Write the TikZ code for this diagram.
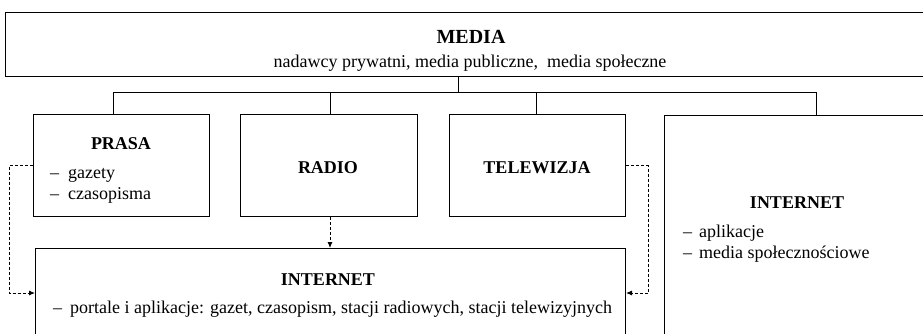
\documentclass[tikz,border=0pt]{standalone}
\usepackage{fontspec}
\setmainfont{Liberation Serif}
\usetikzlibrary{arrows.meta}
\begin{document}
\begin{tikzpicture}[x=1pt,y=-1pt,
  box/.style={draw=black, line width=1pt, anchor=north west, inner sep=0pt},
  link/.style={draw=black, line width=1pt},
  dlink/.style={draw=black, line width=0.9pt, dash pattern=on 3pt off 2pt,
    -{Latex[length=6pt,width=5pt]}},
  headline/.style={anchor=base, inner sep=0pt, font=\bfseries\fontsize{18}{21}\selectfont},
  plain/.style={anchor=base, inner sep=0pt, font=\fontsize{18}{21}\selectfont},
  item/.style={anchor=base west, inner sep=0pt, font=\fontsize{18}{21}\selectfont},
]
\clip (0,0) rectangle (923,333);
\fill[white] (0,0) rectangle (923,333);

% boxes
\node[box, minimum width=930pt, minimum height=64pt] (media) at (5,12) {};
\node[box, minimum width=176pt, minimum height=102pt] (prasa) at (33,114) {};
\node[box, minimum width=177pt, minimum height=102pt] (radio) at (240,114) {};
\node[box, minimum width=176pt, minimum height=102pt] (telewizja) at (449,114) {};
\node[box, minimum width=270pt, minimum height=240pt] (netR) at (664,115) {};
\node[box, minimum width=590pt, minimum height=100pt] (netB) at (35,248) {};

% tree below the top box
\coordinate (hub) at (458,92);
\coordinate (b1) at (113,92);
\coordinate (b2) at (330,92);
\coordinate (b3) at (536,92);
\coordinate (b4) at (816,92);
\coordinate (feed) at (0,293);
\draw[link] (hub |- media.south) -- (hub);
\draw[link] (b1) -- (b4);
\draw[link] (b1) -- (b1 |- prasa.north);
\draw[link] (b2) -- (b2 |- radio.north);
\draw[link] (b3) -- (b3 |- telewizja.north);
\draw[link] (b4) -- (b4 |- netR.north);

% dashed feeds into the online box
\draw[dlink] (prasa.west) -- ++(-24,0) |- (netB.west |- feed);
\draw[dlink] (b2 |- radio.south) -- (b2 |- netB.north);
\draw[dlink] (telewizja.east) -- ++(22,0) |- (netB.east |- feed);

% texts
\node[headline, font=\bfseries\fontsize{20}{24}\selectfont] (mediaT) at (471,43) {MEDIA};
\node[plain] (mediaS) at (470,67) {nadawcy prywatni, media publiczne,\ \ media społeczne};

\node[headline] (prasaT) at (121,149) {PRASA};
\node[item] (prasa1) at (50,178) {\makebox[18pt][l]{–}gazety};
\node[item] (prasa2) at (50,199) {\makebox[18pt][l]{–}czasopisma};

\node[headline] (radioT) at (328,173) {RADIO};
\node[headline] (telewizjaT) at (537,173) {TELEWIZJA};

\node[headline] (netBT) at (328,285) {INTERNET};
\node[item] (netB1) at (53,313) {\makebox[17pt][l]{–}portale i aplikacje: gazet, czasopism, stacji radiowych, stacji telewizyjnych};

\node[headline] (netRT) at (797,208) {INTERNET};
\node[item] (netR1) at (683,237) {\makebox[16pt][l]{–}aplikacje};
\node[item] (netR2) at (683,258) {\makebox[16pt][l]{–}media społecznościowe};
\end{tikzpicture}
\end{document}
